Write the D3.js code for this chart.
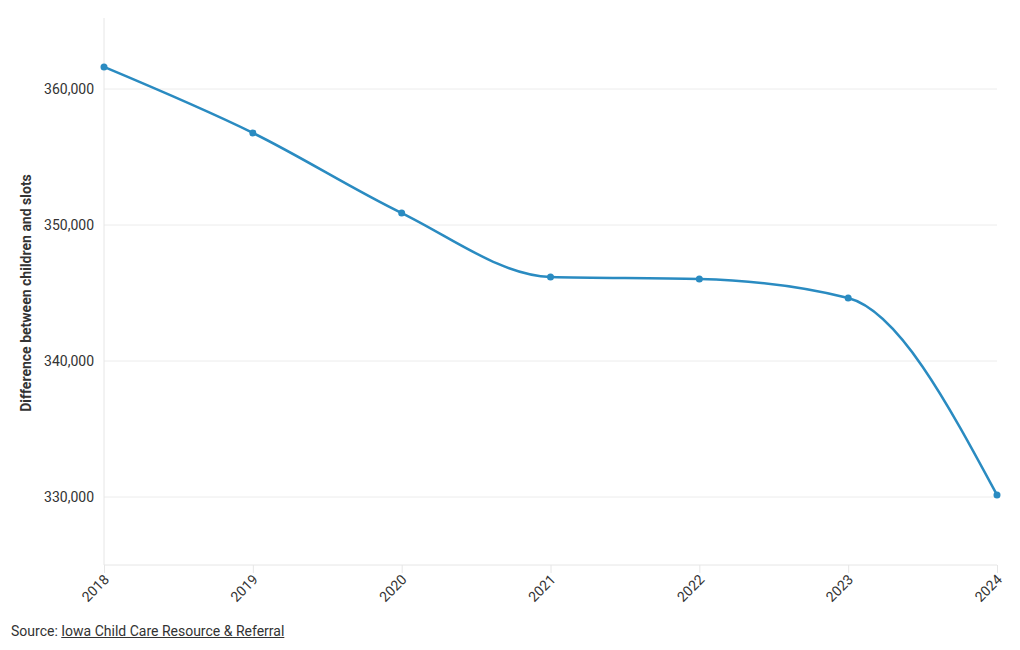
<!DOCTYPE html>
<html><head><meta charset="utf-8">
<script src="https://cdn.jsdelivr.net/npm/d3@7"></script>
<style>
body{margin:0;background:#fff;font-family:Roboto,sans-serif;}
.src{position:absolute;left:11px;top:623px;font-size:14px;color:#333;}
.src span{text-decoration:underline;}
</style></head><body>
<svg id="c" width="1020" height="650"></svg>
<div class="src">Source: <span>Iowa Child Care Resource &amp; Referral</span></div>
<script>
const years = ["2018","2019","2020","2021","2022","2023","2024"];
const values = [361620, 356770, 350880, 346180, 346030, 344630, 330150];
const yTicks = [330000, 340000, 350000, 360000];
const yTitle = "Difference between children and slots";

const svg = d3.select("#c");
const m = {l:104, r:1020-997, t:21, b:650-565};
const W = 1020, H = 650;
const x = d3.scalePoint().domain(years).range([m.l, W-m.r]);
const y = d3.scaleLinear().domain([325000, 365000]).range([H-m.b, m.t]);

svg.append("g").selectAll("line").data(yTicks).join("line")
  .attr("x1", m.l).attr("x2", W-m.r)
  .attr("y1", d=>y(d)).attr("y2", d=>y(d))
  .attr("stroke","#ececec").attr("stroke-width",1);
svg.append("line").attr("x1",m.l).attr("x2",m.l).attr("y1",m.t-3).attr("y2",H-m.b)
  .attr("stroke","#e6e6e6");
svg.append("line").attr("x1",m.l).attr("x2",W-m.r).attr("y1",H-m.b).attr("y2",H-m.b)
  .attr("stroke","#e6e6e6");

const ya = svg.append("g").attr("transform",`translate(${m.l},0)`)
  .call(d3.axisLeft(y).tickValues(yTicks).tickFormat(d3.format(",")).tickSize(0).tickPadding(10));
ya.select(".domain").remove();
ya.selectAll("text").attr("font-family","Roboto,sans-serif").attr("font-size",14).attr("fill","#333");

const xa = svg.append("g").attr("transform",`translate(0,${H-m.b})`)
  .call(d3.axisBottom(x).tickSize(8).tickPadding(4));
xa.select(".domain").remove();
xa.selectAll("line").attr("stroke","#e6e6e6");
xa.selectAll("text").attr("font-family","Roboto,sans-serif").attr("font-size",14).attr("fill","#333")
  .attr("text-anchor","end").attr("x",0).attr("y",0).attr("dy","0.35em")
  .attr("transform","translate(2,12) rotate(-45)");

svg.append("text").attr("transform",`translate(31,${(m.t+H-m.b)/2}) rotate(-90)`)
  .attr("text-anchor","middle").attr("font-family","Roboto,sans-serif")
  .attr("font-size",14).attr("font-weight","bold").attr("fill","#333").text(yTitle);

const data = years.map((yr,i)=>({yr, v:values[i]}));
const color = "#2a8bc1";
svg.append("path").datum(data)
  .attr("d", d3.line().x(d=>x(d.yr)).y(d=>y(d.v)).curve(d3.curveMonotoneX))
  .attr("fill","none").attr("stroke",color).attr("stroke-width",2.5);
svg.append("g").selectAll("circle").data(data).join("circle")
  .attr("cx",d=>x(d.yr)).attr("cy",d=>y(d.v)).attr("r",3.5).attr("fill",color);
</script>
</body></html>
